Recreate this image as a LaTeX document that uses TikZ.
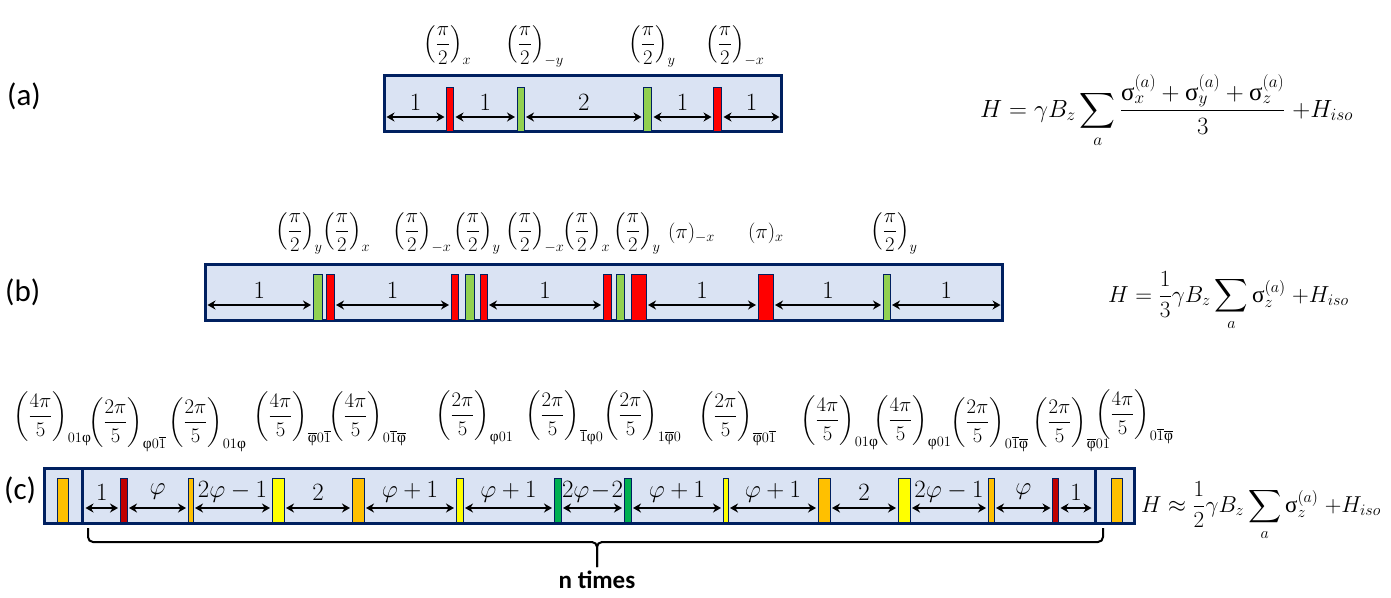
\documentclass[tikz,border=0pt]{standalone}
\usepackage{amsmath}
\usepackage{fontspec}
\newfontfamily\grk{Liberation Serif}
\newfontfamily\lbl{Carlito}
\usetikzlibrary{arrows.meta,calc}
\definecolor{boxfill}{HTML}{DAE3F3}
\definecolor{navy}{HTML}{002060}
\definecolor{cR}{HTML}{FF0000}
\definecolor{cLG}{HTML}{92D050}
\definecolor{cDR}{HTML}{C00000}
\definecolor{cO}{HTML}{FFC000}
\definecolor{cY}{HTML}{FFFF00}
\definecolor{cDG}{HTML}{00B050}
\newcommand\phig{\text{\grk φ}}
\newcommand\sgm{\text{\grk σ}}
\newcommand\bphi{\overline{\phig}}
\newcommand\bone{\overline{1}}
\newcommand\pls[5]{\node[pulse,fill=#2,minimum width=#4pt,minimum height=#5pt] (#1) at (#3) {};}
\tikzset{
  every node/.style={font=\fontsize{21}{25}\selectfont},
  frame/.style={draw=navy,fill=boxfill,line width=3pt,inner sep=0pt,outer sep=0pt},
  pulse/.style={draw=navy,line width=0.8pt,inner sep=0pt,outer sep=0pt,anchor=south},
  dbl/.style={line width=2.5pt,{Stealth[length=8pt,width=9pt]}-{Stealth[length=8pt,width=9pt]},shorten <=2pt,shorten >=2pt},
  lab/.style={midway,yshift=15pt,inner sep=0pt,font=\fontsize{23}{27}\selectfont},
  labc/.style={midway,yshift=16pt,inner sep=0pt,font=\fontsize{23}{27}\selectfont},
  ang/.style={anchor=base west,inner sep=0pt,font=\fontsize{22.5}{26}\selectfont},
  angc/.style={anchor=base west,inner sep=0pt,font=\fontsize{22}{26}\selectfont},
  tag/.style={anchor=west,inner sep=0pt,font=\lbl\fontsize{31}{35}\selectfont},
  frm/.style={anchor=base west,inner sep=0pt,font=\fontsize{25}{29}\selectfont},
  frmb/.style={anchor=base west,inner sep=0pt,font=\fontsize{20.74}{25}\selectfont,scale=1.12},
  frmc/.style={anchor=base west,inner sep=0pt,font=\fontsize{20.74}{25}\selectfont,scale=1.11},
  brace/.style={line width=2pt,rounded corners=5pt}
}
\begin{document}
\begin{tikzpicture}[x=1pt,y=-1pt]
\useasboundingbox (0,0) rectangle (1391,597);

% ---------- (a)
\node[tag] (ta) at (7,96) {(a)};
\node[frame,minimum width=397pt,minimum height=56pt] (boxA) at (583,103.5) {};
\coordinate (ya) at (0,117);
\pls{a1}{cR}{450,131}{7}{44}
\pls{a2}{cLG}{520.5,131}{7}{44}
\pls{a3}{cLG}{647.5,131}{8}{44}
\pls{a4}{cR}{717.5,131}{8}{44}
\draw[dbl] (boxA.west |- ya) -- node[lab]{$1$} (a1.west |- ya);
\draw[dbl] (a1.east |- ya) -- node[lab]{$1$} (a2.west |- ya);
\draw[dbl] (a2.east |- ya) -- node[lab]{$2$} (a3.west |- ya);
\draw[dbl] (a3.east |- ya) -- node[lab]{$1$} (a4.west |- ya);
\draw[dbl] (a4.east |- ya) -- node[lab]{$1$} (boxA.east |- ya);
\node[ang] (la1) at (423,50) {$\left(\dfrac{\pi}{2}\right)_{x}$};
\node[ang] (la2) at (505,50) {$\left(\dfrac{\pi}{2}\right)_{-y}$};
\node[ang] (la3) at (628,50) {$\left(\dfrac{\pi}{2}\right)_{y}$};
\node[ang] (la4) at (705,50) {$\left(\dfrac{\pi}{2}\right)_{-x}$};
\node[frm] (fa) at (980,117) {$H=\gamma B_z\displaystyle\sum_a\frac{\sgm_x^{(a)}+\sgm_y^{(a)}+\sgm_z^{(a)}}{3}\;{+}H_{iso}$};

% ---------- (b)
\node[tag] (tb) at (5,292) {(b)};
\node[frame,minimum width=797pt,minimum height=56pt] (boxB) at (604,292.5) {};
\coordinate (yb) at (0,305);
\pls{b1}{cLG}{317.5,320}{9}{46}
\pls{b2}{cR}{330,320}{8}{46}
\pls{b3}{cR}{454.5,320}{7}{46}
\pls{b4}{cLG}{469.5,320}{9}{46}
\pls{b5}{cR}{483.5,320}{7}{46}
\pls{b6}{cR}{607,320}{8}{46}
\pls{b7}{cLG}{620,320}{8}{46}
\pls{b8}{cR}{638.5,320}{15}{46}
\pls{b9}{cR}{765.5,320}{15}{46}
\pls{b10}{cLG}{886.5,320}{7}{46}
\draw[dbl] (boxB.west |- yb) -- node[lab]{$1$} (b1.west |- yb);
\draw[dbl] (b2.east |- yb) -- node[lab]{$1$} (b3.west |- yb);
\draw[dbl] (b5.east |- yb) -- node[lab]{$1$} (b6.west |- yb);
\draw[dbl] (b8.east |- yb) -- node[lab]{$1$} (b9.west |- yb);
\draw[dbl] (b9.east |- yb) -- node[lab]{$1$} (b10.west |- yb);
\draw[dbl] (b10.east |- yb) -- node[lab]{$1$} (boxB.east |- yb);
\node[ang] (lb1) at (275,237) {$\left(\dfrac{\pi}{2}\right)_{y}$};
\node[ang] (lb2) at (322,237) {$\left(\dfrac{\pi}{2}\right)_{x}$};
\node[ang] (lb3) at (392,237) {$\left(\dfrac{\pi}{2}\right)_{-x}$};
\node[ang] (lb4) at (453,237) {$\left(\dfrac{\pi}{2}\right)_{y}$};
\node[ang] (lb5) at (505,237) {$\left(\dfrac{\pi}{2}\right)_{-x}$};
\node[ang] (lb6) at (562,237) {$\left(\dfrac{\pi}{2}\right)_{x}$};
\node[ang] (lb7) at (613,237) {$\left(\dfrac{\pi}{2}\right)_{y}$};
\node[ang] (lb8) at (668,238) {$(\pi)_{-x}$};
\node[ang] (lb9) at (748,238) {$(\pi)_{x}$};
\node[ang] (lb10) at (870,237) {$\left(\dfrac{\pi}{2}\right)_{y}$};
\node[frmb] (fb) at (1108,302) {$H=\dfrac{1}{3}\gamma B_z\displaystyle\sum_a\sgm_z^{(a)}\;{+}H_{iso}$};

% ---------- (c)
\node[tag] (tc) at (4,490) {(c)};
\node[frame,minimum width=1090pt,minimum height=55pt] (boxC) at (589.5,496) {};
\draw[navy,line width=3pt] (82,467) -- (82,525);
\draw[navy,line width=3pt] (1095,467) -- (1095,525);
\coordinate (dL) at (83.5,508);
\coordinate (dR) at (1093.5,508);
\coordinate (yc) at (0,508);
\pls{c0}{cO}{62.5,522}{11}{44}
\pls{c1}{cDR}{123.5,522}{7}{44}
\pls{c2}{cO}{190.5,522}{5}{44}
\pls{c3}{cY}{278,522}{12}{44}
\pls{c4}{cO}{358,522}{12}{44}
\pls{c5}{cY}{459.5,522}{7}{44}
\pls{c6}{cDG}{557.5,522}{7}{44}
\pls{c7}{cDG}{627.5,522}{7}{44}
\pls{c8}{cY}{725.5,522}{5}{44}
\pls{c9}{cO}{824,522}{12}{44}
\pls{c10}{cY}{904,522}{12}{44}
\pls{c11}{cO}{991,522}{6}{44}
\pls{c12}{cDR}{1055.5,522}{6}{44}
\pls{c13}{cO}{1116.5,522}{11}{44}
\draw[dbl] (dL) -- node[labc]{$1$} (c1.west |- yc);
\draw[dbl] (c1.east |- yc) -- node[labc]{$\varphi$} (c2.west |- yc);
\draw[dbl] (c2.east |- yc) -- node[labc]{$2\varphi-1$} (c3.west |- yc);
\draw[dbl] (c3.east |- yc) -- node[labc]{$2$} (c4.west |- yc);
\draw[dbl] (c4.east |- yc) -- node[labc]{$\varphi+1$} (c5.west |- yc);
\draw[dbl] (c5.east |- yc) -- node[labc]{$\varphi+1$} (c6.west |- yc);
\draw[dbl] (c6.east |- yc) -- node[labc]{$2\varphi\!-\!2$} (c7.west |- yc);
\draw[dbl] (c7.east |- yc) -- node[labc]{$\varphi+1$} (c8.west |- yc);
\draw[dbl] (c8.east |- yc) -- node[labc]{$\varphi+1$} (c9.west |- yc);
\draw[dbl] (c9.east |- yc) -- node[labc]{$2$} (c10.west |- yc);
\draw[dbl] (c10.east |- yc) -- node[labc]{$2\varphi-1$} (c11.west |- yc);
\draw[dbl] (c11.east |- yc) -- node[labc]{$\varphi$} (c12.west |- yc);
\draw[dbl] (c12.east |- yc) -- node[labc]{$1$} (dR);

\node[angc] (lc1) at (13,422) {$\left(\dfrac{4\pi}{5}\right)_{01\phig}$};
\node[angc] (lc2) at (88,428) {$\left(\dfrac{2\pi}{5}\right)_{\phig0\bone}$};
\node[angc] (lc3) at (168,428) {$\left(\dfrac{2\pi}{5}\right)_{01\phig}$};
\node[angc] (lc4) at (253,422) {$\left(\dfrac{4\pi}{5}\right)_{\bphi0\bone}$};
\node[angc] (lc5) at (328,422) {$\left(\dfrac{4\pi}{5}\right)_{0\bone\bphi}$};
\node[angc] (lc6) at (435,421) {$\left(\dfrac{2\pi}{5}\right)_{\phig01}$};
\node[angc] (lc7) at (525,421) {$\left(\dfrac{2\pi}{5}\right)_{\bone\phig0}$};
\node[angc] (lc8) at (603,421) {$\left(\dfrac{2\pi}{5}\right)_{1\bphi0}$};
\node[angc] (lc9) at (698,422) {$\left(\dfrac{2\pi}{5}\right)_{\bphi0\bone}$};
\node[angc] (lc10) at (800,426) {$\left(\dfrac{4\pi}{5}\right)_{01\phig}$};
\node[angc] (lc11) at (873,426) {$\left(\dfrac{4\pi}{5}\right)_{\phig01}$};
\node[angc] (lc12) at (950,428) {$\left(\dfrac{2\pi}{5}\right)_{0\bone\bphi}$};
\node[angc] (lc13) at (1032,428) {$\left(\dfrac{2\pi}{5}\right)_{\bphi01}$};
\node[angc] (lc14) at (1095,420) {$\left(\dfrac{4\pi}{5}\right)_{0\bone\bphi}$};
\node[frmc] (fc) at (1141,512) {$H\approx\dfrac{1}{2}\gamma B_z\displaystyle\sum_a\sgm_z^{(a)}\;{+}H_{iso}$};

% brace
\coordinate (bL) at (88,528);
\coordinate (bR) at (1103,528);
\coordinate (bT) at (597,567);
\draw[brace] (bL) -- (88,542) -- (597,542) -- (bT);
\draw[brace] (bR) -- (1103,542) -- (597,542) -- (bT);
\node[anchor=north,inner sep=0pt,font=\lbl\bfseries\fontsize{25}{28}\selectfont] (nt) at (bT |- 0,571) {n times};
\end{tikzpicture}
\end{document}
